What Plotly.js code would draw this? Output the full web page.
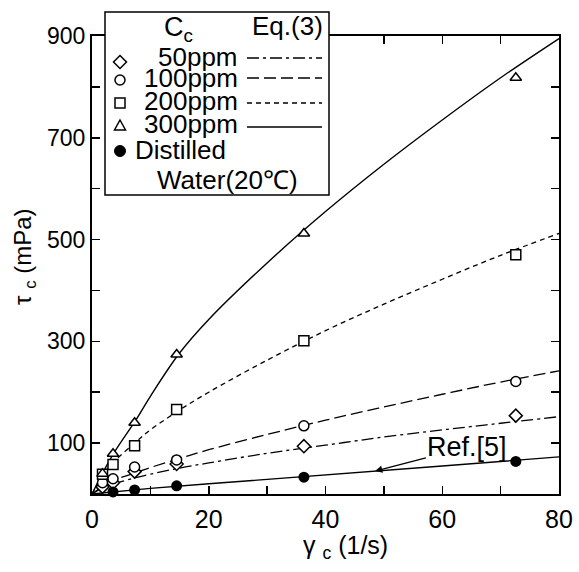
<!DOCTYPE html>
<html>
<head>
<meta charset="utf-8">
<script src="https://cdn.plot.ly/plotly-3.0.1.min.js"></script>
<style>html,body{margin:0;padding:0;background:#fff;}#chart{width:579px;height:572px;}</style>
</head>
<body>
<div id="chart"></div>
<script>
// ---- data ----
const gammaPts = [1.8, 3.6, 7.3, 14.5, 36.3, 72.6];
const tau50  = [14, 22, 44, 59, 94, 154];
const tau100 = [22, 30, 53, 67, 134, 221];
const tau200 = [39, 58, 95, 166, 301, 470];
const tau300 = [40, 79, 140, 274, 512, 818];
const gammaWater = [3.6, 7.3, 14.5, 36.3, 72.6];
const tauWater = [4, 8, 16, 33, 64];

const gammaFit = [0, 2, 4, 7.5, 10, 15, 20, 30, 40, 50, 60, 70, 80];
const fit50  = [0, 13, 21, 32, 39, 51, 61, 80, 96, 112, 126, 139, 152];
const fit100 = [0, 16, 28, 42, 52, 70, 87, 117, 145, 171, 196, 220, 242];
const fit200 = [0, 40, 66, 102, 126, 165, 200, 263, 321, 373, 422, 469, 512];
const fit300 = [0, 45, 85, 145, 192, 277, 343, 454, 555, 648, 735, 818, 895];
const gammaRef = [0, 5, 10, 20, 40, 60, 80];
const tauRef   = [0, 6, 11, 20, 37, 55, 73];

const xTickVals = [0, 20, 40, 60, 80];
const yTickVals = [100, 300, 500, 700, 900];
const legendLabels = ['50ppm', '100ppm', '200ppm', '300ppm'];

// ---- styling ----
const FONT = 'Liberation Sans, Arial, Helvetica, sans-serif';
const W = 579, H = 572, L = 92, R = 559, T = 36, B = 494;
const px = v => (v - L) / (R - L);
const py = v => (B - v) / (B - T);

const mk = (sym, size, fill) => ({symbol: sym, size: size, color: fill, line: {color: '#000', width: 1.5}});
const dashes = ['12px,4px,3px,4px', '12px,5px', '5px,4px', 'solid'];
const fitLine = (d, w) => ({color: '#000', width: w, dash: d, shape: 'spline', smoothing: 1});

const traces = [
  {x: gammaFit, y: fit50,  mode: 'lines', line: fitLine(dashes[0], 1.3)},
  {x: gammaFit, y: fit100, mode: 'lines', line: fitLine(dashes[1], 1.3)},
  {x: gammaFit, y: fit200, mode: 'lines', line: fitLine(dashes[2], 1.3)},
  {x: gammaFit, y: fit300, mode: 'lines', line: fitLine(dashes[3], 1.4)},
  {x: gammaRef, y: tauRef, mode: 'lines', line: {color: '#000', width: 1.4}},
  {x: gammaPts, y: tau50,  mode: 'markers', marker: mk('diamond', 10, '#fff'), cliponaxis: false},
  {x: gammaPts, y: tau100, mode: 'markers', marker: mk('circle', 10, '#fff'), cliponaxis: false},
  {x: gammaPts, y: tau200, mode: 'markers', marker: mk('square', 10, '#fff'), cliponaxis: false},
  {x: gammaPts, y: tau300, mode: 'markers', marker: mk('triangle-up', 10, '#fff'), cliponaxis: false},
  {x: gammaWater, y: tauWater, mode: 'markers', marker: {symbol: 'circle', size: 11, color: '#000'}, cliponaxis: false}
];

// ---- hand-built legend (box, line samples, marker glyphs) ----
const shapes = [];
shapes.push({type: 'rect', xref: 'paper', yref: 'paper', layer: 'above',
  x0: px(105), x1: px(329), y0: py(12), y1: py(195),
  line: {color: '#000', width: 1.5}, fillcolor: '#fff'});
const lineY = [58, 78, 103, 127];
lineY.forEach((yy, i) => shapes.push({type: 'line', xref: 'paper', yref: 'paper', layer: 'above',
  x0: px(247), x1: px(322), y0: py(yy), y1: py(yy),
  line: {color: '#000', width: 1.3, dash: dashes[i]}}));
const mx = 120;
const pth = pts => 'M' + pts.map(p => px(p[0]) + ',' + py(p[1])).join('L') + 'Z';
shapes.push({type: 'path', xref: 'paper', yref: 'paper', layer: 'above',
  path: pth([[mx, 55.5], [mx + 6.5, 62], [mx, 68.5], [mx - 6.5, 62]]), line: {color: '#000', width: 1.5}, fillcolor: '#fff'});
shapes.push({type: 'circle', xref: 'paper', yref: 'paper', layer: 'above',
  x0: px(mx - 5), x1: px(mx + 5), y0: py(75), y1: py(85), line: {color: '#000', width: 1.5}, fillcolor: '#fff'});
shapes.push({type: 'rect', xref: 'paper', yref: 'paper', layer: 'above',
  x0: px(mx - 5), x1: px(mx + 5), y0: py(98), y1: py(108), line: {color: '#000', width: 1.5}, fillcolor: '#fff'});
shapes.push({type: 'path', xref: 'paper', yref: 'paper', layer: 'above',
  path: pth([[mx, 120], [mx + 5.5, 130], [mx - 5.5, 130]]), line: {color: '#000', width: 1.5}, fillcolor: '#fff'});
shapes.push({type: 'circle', xref: 'paper', yref: 'paper', layer: 'above',
  x0: px(mx - 5.5), x1: px(mx + 5.5), y0: py(145.5), y1: py(156.5), line: {color: '#000', width: 1}, fillcolor: '#000'});

const ann = (text, x, y, xa, size, extra) => Object.assign({text: text, xref: 'paper', yref: 'paper',
  x: x, y: y, xanchor: xa, yanchor: 'middle', showarrow: false, borderpad: 0,
  font: {family: FONT, size: size, color: '#000'}}, extra || {});

const textY = [57, 78, 101, 124];
const annotations = [
  ann('C<sub>c</sub>', px(163), py(29), 'left', 27),
  ann('Eq.(3)', px(251), py(26), 'left', 26),
  ...legendLabels.map((t, i) => ann(t, px(239), py(textY[i]), 'right', 26)),
  ann('Distilled', px(134), py(150), 'left', 26),
  ann('Water(20\u2103)', px(156), py(180), 'left', 26),
  // axis titles
  ann('\u03b3 <sub>c</sub> (1/s)', px(345), py(547), 'center', 25),
  ann('\u03c4 <sub>c</sub> (mPa)', px(24), py(257), 'center', 24, {textangle: -90}),
  // Ref.[5] callout
  {text: 'Ref.[5]', x: 48.5, y: 45, xref: 'x', yref: 'y', ax: 64.3, ay: 92, axref: 'x', ayref: 'y',
   showarrow: true, arrowhead: 2, arrowsize: 1.2, arrowwidth: 1.2, arrowcolor: '#000',
   font: {family: FONT, size: 27, color: '#000'}}
];

const axisCommon = {
  showgrid: false, zeroline: false, showline: true, linecolor: '#000', linewidth: 2,
  mirror: 'ticks', ticks: 'inside', ticklen: 8, tickwidth: 1.5, tickcolor: '#000',
  fixedrange: true
};

const layout = {
  width: W, height: H,
  margin: {l: L, r: W - R, t: T, b: H - B, pad: 0},
  paper_bgcolor: '#fff', plot_bgcolor: '#fff',
  showlegend: false,
  font: {family: FONT, color: '#000'},
  xaxis: Object.assign({}, axisCommon, {
    range: [0, 80], tickmode: 'array', tickvals: xTickVals, ticktext: xTickVals.map(String),
    tickfont: {family: FONT, size: 25}, ticklabelstandoff: 2,
    minor: {dtick: 10, tick0: 0, ticks: 'inside', ticklen: 8, tickwidth: 1.5, tickcolor: '#000'}
  }),
  yaxis: Object.assign({}, axisCommon, {
    range: [0, 900], tickmode: 'array', tickvals: yTickVals, ticktext: yTickVals.map(String),
    tickfont: {family: FONT, size: 23},
    minor: {dtick: 100, tick0: 0, ticks: 'inside', ticklen: 8, tickwidth: 1.5, tickcolor: '#000'}
  }),
  shapes: shapes,
  annotations: annotations
};

Plotly.newPlot('chart', traces, layout, {staticPlot: true, displayModeBar: false});
</script>
</body>
</html>
